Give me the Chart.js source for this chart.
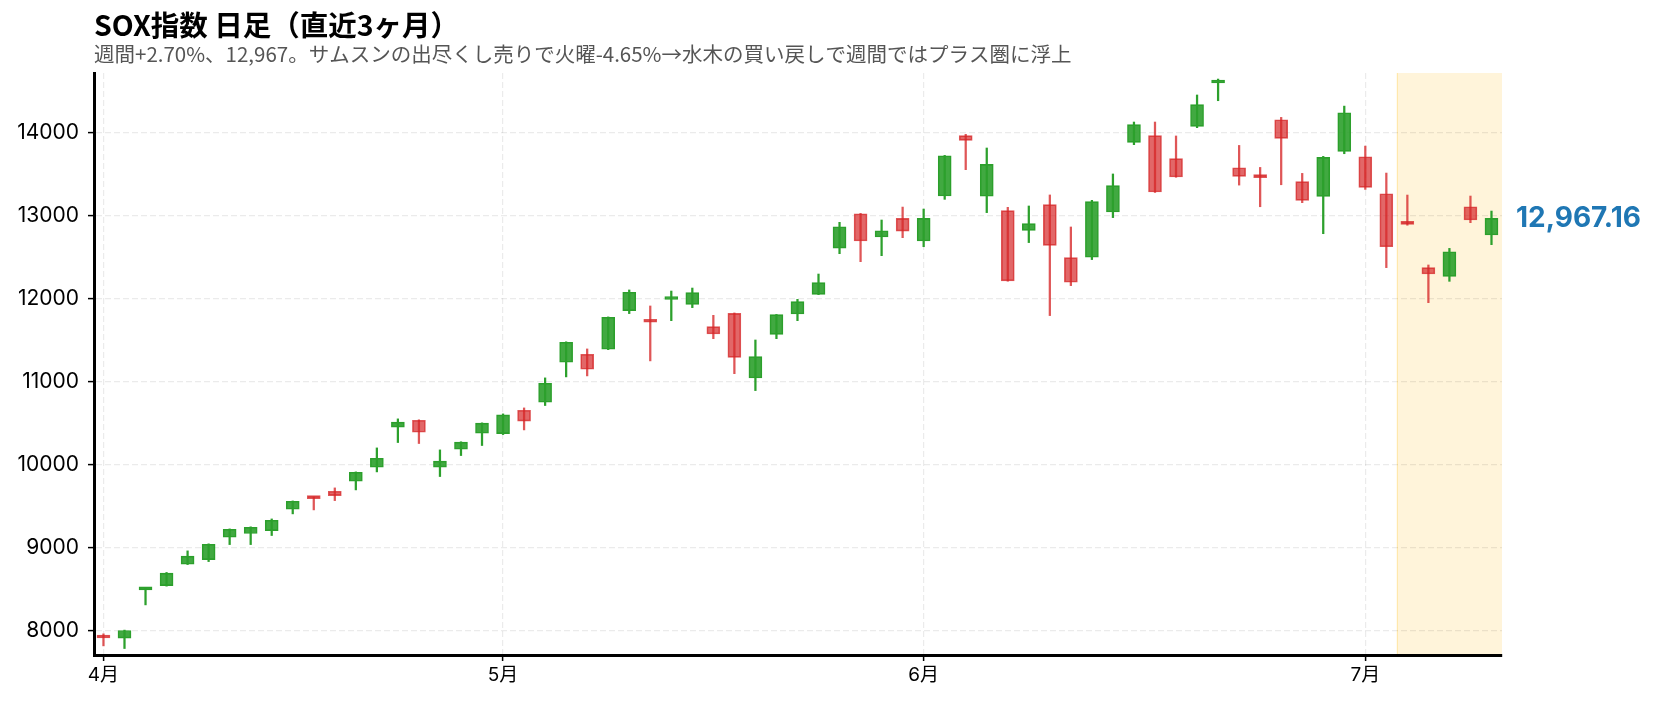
<!DOCTYPE html>
<html>
<head>
<meta charset="utf-8">
<script src="https://cdn.jsdelivr.net/npm/chart.js@4.4.1/dist/chart.umd.min.js"></script>
<style>
  body { margin: 0; background: #fff; }
  canvas { display: block; }
</style>
</head>
<body>
<canvas id="sox" width="1660" height="703"></canvas>
<script>
// SOX 日足 (直近3ヶ月) — 値はチャートから読み取り
const opens = [7925, 7908, 8490, 8542, 8799, 8855, 9124, 9169, 9205, 9462,
  9605, 9679, 9799, 9968, 10451, 10535, 9969, 10185, 10378, 10374,
  10655, 10752, 11234, 11330, 11390, 11856, 11730, 11990, 11932, 11663,
  11823, 11044, 11570, 11815, 12052, 12610, 13024, 12743, 12968, 12695,
  13237, 13965, 13234, 13061, 12824, 13133, 12495, 12499, 13045, 13884,
  13965, 13687, 14077, 14599, 13578, 13482, 14157, 13410, 13233, 13775,
  13711, 13265, 12910, 12374, 12269, 13108, 12767];
const highs = [7960, 8005, 8510, 8700, 8960, 9045, 9225, 9250, 9345, 9562,
  9608, 9719, 9912, 10201, 10551, 10540, 10177, 10275, 10503, 10611,
  10683, 11045, 11480, 11394, 11780, 12105, 11912, 12092, 12128, 11799,
  11828, 11502, 11810, 11992, 12297, 12920, 13028, 12948, 13104, 13080,
  13727, 13981, 13816, 13101, 13117, 13250, 12864, 13185, 13503, 14129,
  14129, 13961, 14455, 14647, 13847, 13582, 14185, 13510, 13715, 14321,
  13839, 13514, 13249, 12406, 12606, 13237, 13056];
const lows = [7815, 7783, 8309, 8535, 8795, 8831, 9036, 9036, 9145, 9406,
  9454, 9566, 9695, 9912, 10266, 10254, 9856, 10109, 10230, 10362,
  10418, 10712, 11057, 11069, 11385, 11820, 11250, 11735, 11892, 11518,
  11096, 10892, 11518, 11735, 12048, 12542, 12446, 12518, 12735, 12626,
  13197, 13555, 13037, 12210, 12676, 11796, 12157, 12471, 12977, 13856,
  13280, 13463, 14061, 14386, 13369, 13108, 13373, 13157, 12783, 13747,
  13317, 12374, 12885, 11952, 12209, 12916, 12651];
const closes = [7910, 8000, 8505, 8691, 8896, 9040, 9221, 9245, 9329, 9558,
  9590, 9626, 9908, 10076, 10511, 10390, 10041, 10270, 10499, 10599,
  10523, 10981, 11475, 11149, 11776, 12077, 11716, 12006, 12072, 11574,
  11293, 11301, 11807, 11964, 12193, 12867, 12695, 12819, 12815, 12968,
  13723, 13908, 13619, 12214, 12904, 12643, 12198, 13169, 13362, 14097,
  13286, 13467, 14338, 14631, 13474, 13458, 13932, 13185, 13703, 14241,
  13341, 12626, 12896, 12297, 12566, 12948, 12967.16];

const monthTickIdx = [0, 19, 39, 60];
const monthLabels = ['4月', '5月', '6月', '7月'];
const yTicks = [8000, 9000, 10000, 11000, 12000, 13000, 14000];
const lastWeekStart = 62;

const titleText = 'SOX指数 日足（直近3ヶ月）';
const subText = '週間+2.70%、12,967。サムスンの出尽くし売りで火曜-4.65%→水木の買い戻しで週間ではプラス圏に浮上';

const GREEN = 'rgba(44,160,44,0.9)';
const GREEN_EDGE = 'rgba(44,160,44,1)';
const RED = 'rgba(214,39,40,0.7)';
const RED_EDGE = 'rgba(214,39,40,0.78)';

const isUp = i => closes[i] >= opens[i];

Chart.defaults.font.family = "Inter, 'Noto Sans CJK JP', sans-serif";
Chart.defaults.color = '#000';

const bodies = opens.map((o, i) => ({ x: i, y: [o, closes[i]] }));
const wicks = lows.map((l, i) => ({ x: i, y: [l, highs[i]] }));

const highlight = {
  id: 'highlight',
  beforeDraw(chart) {
    const { ctx, chartArea: a, scales: { x } } = chart;
    const x0 = x.getPixelForValue(lastWeekStart - 0.5);
    ctx.save();
    ctx.fillStyle = '#fff4da';
    ctx.fillRect(x0, a.top, a.right - x0, a.bottom - a.top);
    ctx.strokeStyle = 'rgba(255,215,110,0.5)';
    ctx.lineWidth = 1;
    ctx.beginPath();
    ctx.moveTo(x0 + 0.5, a.top);
    ctx.lineTo(x0 + 0.5, a.bottom);
    ctx.stroke();
    ctx.restore();
  }
};

const texts = {
  id: 'texts',
  afterDraw(chart) {
    const { ctx, chartArea: a, scales: { y } } = chart;
    ctx.save();
    ctx.textAlign = 'left';
    ctx.textBaseline = 'alphabetic';
    ctx.fillStyle = '#000';
    ctx.font = "bold 28.5px 'Noto Sans CJK JP'";
    ctx.fillText(titleText, 94, 36);
    ctx.fillStyle = '#555';
    ctx.font = "20.5px 'Noto Sans CJK JP'";
    ctx.fillText(subText, 94, 62);

    const last = closes[closes.length - 1];
    ctx.fillStyle = '#1f77b4';
    ctx.font = "bold 28px Inter, 'Noto Sans CJK JP'";
    ctx.textBaseline = 'middle';
    ctx.fillText(last.toLocaleString('en-US', { minimumFractionDigits: 2 }), a.right + 14, y.getPixelForValue(last));
    ctx.restore();
  }
};

new Chart(document.getElementById('sox'), {
  type: 'bar',
  data: {
    datasets: [
      {
        label: 'body',
        data: bodies,
        order: 0,
        grouped: false,
        barThickness: 13,
        minBarLength: 3,
        borderWidth: 1,
        borderSkipped: false,
        backgroundColor: c => isUp(c.dataIndex) ? GREEN : RED,
        borderColor: c => isUp(c.dataIndex) ? GREEN_EDGE : RED_EDGE
      },
      {
        label: 'wick',
        data: wicks,
        order: 1,
        grouped: false,
        barThickness: 1.6,
        borderWidth: 0,
        backgroundColor: c => isUp(c.dataIndex) ? GREEN_EDGE : RED_EDGE
      }
    ]
  },
  options: {
    responsive: false,
    animation: false,
    layout: { padding: { top: 73, right: 158, left: 0, bottom: 0 } },
    plugins: { legend: { display: false }, tooltip: { enabled: false } },
    scales: {
      x: {
        type: 'linear',
        min: -0.45,
        max: 66.5,
        offset: false,
        afterBuildTicks: s => { s.ticks = monthTickIdx.map(v => ({ value: v })); },
        afterFit: s => { s.height = 48; },
        ticks: {
          callback: (v, i) => monthLabels[i],
          font: { size: 19 },
          color: '#000',
          padding: 3,
          maxRotation: 0,
          autoSkip: false
        },
        grid: {
          offset: false,
          color: 'rgba(0,0,0,0.08)',
          lineWidth: 1.2,
          tickColor: '#000',
          tickWidth: 1.5,
          tickLength: 6,
          tickBorderDash: []
        },
        border: { color: '#000', width: 3, dash: [6, 3] }
      },
      y: {
        min: 7705,
        max: 14720,
        afterBuildTicks: s => { s.ticks = yTicks.map(v => ({ value: v })); },
        afterFit: s => { s.width = 94; },
        ticks: { callback: v => String(v), font: { size: 21 }, color: '#000', padding: 9 },
        grid: {
          color: 'rgba(0,0,0,0.08)',
          lineWidth: 1.2,
          tickColor: '#000',
          tickWidth: 1.5,
          tickLength: 6,
          tickBorderDash: []
        },
        border: { color: '#000', width: 3, dash: [6, 3] }
      }
    }
  },
  plugins: [highlight, texts]
});
</script>
</body>
</html>
